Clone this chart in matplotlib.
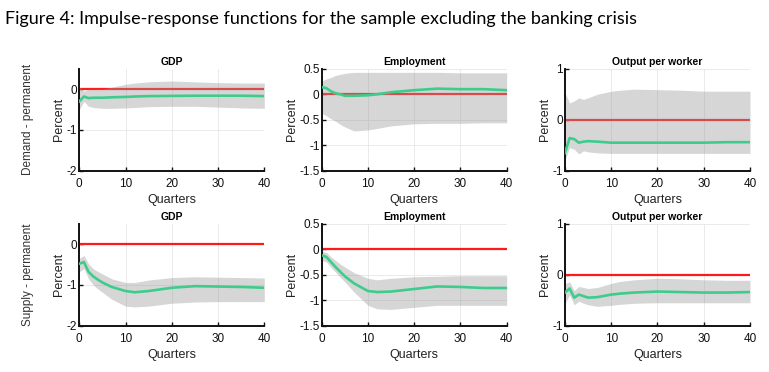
import numpy as np
import matplotlib.pyplot as plt

plt.rcParams['font.family'] = ['Liberation Sans', 'DejaVu Sans']
plt.rcParams['axes.unicode_minus'] = False

quarters = [0, 1, 2, 3, 4, 5, 7, 10, 12, 15, 20, 25, 30, 35, 40]

# demand - permanent shock
dem_gdp_mid = [-0.30, -0.18, -0.22, -0.21, -0.21, -0.21, -0.20, -0.19, -0.18, -0.17, -0.165, -0.16, -0.16, -0.16, -0.17]
dem_gdp_up = [0.05, -0.05, 0.0, 0.0, 0.0, 0.0, 0.05, 0.12, 0.15, 0.18, 0.20, 0.18, 0.16, 0.15, 0.15]
dem_gdp_lo = [-0.50, -0.30, -0.42, -0.45, -0.46, -0.47, -0.47, -0.46, -0.45, -0.43, -0.42, -0.42, -0.44, -0.46, -0.47]

dem_emp_mid = [0.14, 0.12, 0.06, 0.02, 0.0, -0.03, -0.03, -0.02, 0.0, 0.04, 0.08, 0.11, 0.10, 0.10, 0.08]
dem_emp_up = [0.26, 0.30, 0.33, 0.37, 0.39, 0.41, 0.43, 0.43, 0.43, 0.43, 0.43, 0.43, 0.42, 0.42, 0.42]
dem_emp_lo = [-0.37, -0.42, -0.48, -0.53, -0.59, -0.64, -0.72, -0.70, -0.67, -0.62, -0.58, -0.57, -0.57, -0.56, -0.56]

dem_opw_mid = [-0.65, -0.36, -0.38, -0.45, -0.43, -0.42, -0.43, -0.45, -0.45, -0.45, -0.45, -0.45, -0.45, -0.44, -0.44]
dem_opw_up = [0.53, 0.33, 0.37, 0.43, 0.40, 0.43, 0.50, 0.56, 0.58, 0.60, 0.59, 0.58, 0.56, 0.56, 0.56]
dem_opw_lo = [-0.79, -0.55, -0.58, -0.67, -0.61, -0.63, -0.65, -0.66, -0.66, -0.66, -0.66, -0.66, -0.66, -0.66, -0.66]

# supply - permanent shock
sup_gdp_mid = [-0.48, -0.44, -0.68, -0.79, -0.87, -0.94, -1.05, -1.15, -1.18, -1.15, -1.07, -1.03, -1.04, -1.05, -1.07]
sup_gdp_up = [-0.35, -0.28, -0.48, -0.60, -0.67, -0.73, -0.85, -0.94, -0.94, -0.88, -0.82, -0.80, -0.81, -0.82, -0.83]
sup_gdp_lo = [-0.68, -0.60, -0.85, -1.00, -1.10, -1.18, -1.35, -1.52, -1.54, -1.52, -1.45, -1.42, -1.41, -1.41, -1.41]

sup_emp_mid = [-0.12, -0.15, -0.25, -0.35, -0.44, -0.53, -0.67, -0.82, -0.84, -0.83, -0.78, -0.73, -0.74, -0.76, -0.76]
sup_emp_up = [-0.04, -0.06, -0.15, -0.22, -0.29, -0.35, -0.46, -0.57, -0.60, -0.57, -0.54, -0.53, -0.52, -0.52, -0.52]
sup_emp_lo = [-0.22, -0.25, -0.35, -0.45, -0.55, -0.64, -0.84, -1.10, -1.17, -1.18, -1.14, -1.10, -1.10, -1.10, -1.10]

sup_opw_mid = [-0.35, -0.27, -0.45, -0.39, -0.42, -0.45, -0.44, -0.39, -0.37, -0.35, -0.33, -0.34, -0.35, -0.35, -0.34]
sup_opw_up = [-0.17, -0.14, -0.31, -0.23, -0.25, -0.27, -0.25, -0.17, -0.13, -0.10, -0.07, -0.08, -0.10, -0.11, -0.11]
sup_opw_lo = [-0.56, -0.40, -0.59, -0.52, -0.56, -0.59, -0.62, -0.60, -0.58, -0.56, -0.55, -0.55, -0.55, -0.55, -0.55]

titles = ["GDP", "Employment", "Output per worker"]
row_labels = ["Demand - permanent", "Supply - permanent"]
ylims = [(-2, 0.5), (-1.5, 0.5), (-1, 1)]
yticks = [[-2, -1, 0], [-1.5, -1, -0.5, 0, 0.5], [-1, 0, 1]]
yticklabels = [["-2", "-1", "0"], ["-1.5", "-1", "-0.5", "0", "0.5"], ["-1", "0", "1"]]

panels = [
    [(dem_gdp_mid, dem_gdp_up, dem_gdp_lo), (dem_emp_mid, dem_emp_up, dem_emp_lo), (dem_opw_mid, dem_opw_up, dem_opw_lo)],
    [(sup_gdp_mid, sup_gdp_up, sup_gdp_lo), (sup_emp_mid, sup_emp_up, sup_emp_lo), (sup_opw_mid, sup_opw_up, sup_opw_lo)],
]

fig = plt.figure(figsize=(7.69, 3.72), dpi=100)
fig.text(0.007, 0.95, "Figure 4: Impulse-response functions for the sample excluding the banking crisis",
         fontsize=13, family=['Lato', 'DejaVu Sans'], va='center', ha='left')

lefts = [0.1031, 0.4183, 0.7347]
bottoms = [0.5411, 0.1245]
w = 0.2406
h = 0.274

for r in range(2):
    for c in range(3):
        ax = fig.add_axes([lefts[c], bottoms[r], w, h])
        mid, up, lo = panels[r][c]
        ax.axhline(0, color='#ff1a1a', lw=1.6, zorder=1)
        ax.fill_between(quarters, lo, up, color='#999999', alpha=0.4, lw=0, zorder=2)
        ax.plot(quarters, mid, color='#3ecc8c', lw=1.9, zorder=3)
        ax.set_xlim(0, 40)
        ax.set_ylim(*ylims[c])
        ax.set_xticks([0, 10, 20, 30, 40])
        ax.set_yticks(yticks[c])
        ax.set_yticklabels(yticklabels[c])
        ax.grid(True, color='#e6e6e6', lw=0.6, zorder=0)
        ax.set_axisbelow(True)
        for s in ['top', 'right']:
            ax.spines[s].set_visible(False)
        for s in ['left', 'bottom']:
            ax.spines[s].set_linewidth(1.4)
            ax.spines[s].set_color('#111111')
        ax.tick_params(direction='in', length=3, width=1, labelsize=8.5, colors='#111111')
        ax.tick_params(axis='x', pad=5)
        ax.tick_params(axis='y', pad=1.5)
        ax.set_title(titles[c], fontsize=7.5, fontweight='bold', pad=3)
        ax.set_xlabel("Quarters", fontsize=9, labelpad=3, color='#222222')
        ax.set_ylabel("Percent", fontsize=9, labelpad=1, color='#222222')
    fig.text(0.036, bottoms[r] + h / 2, row_labels[r], rotation=90, fontsize=8.5,
             ha='center', va='center', color='#333333')

fig.savefig("out.png", dpi=100)
